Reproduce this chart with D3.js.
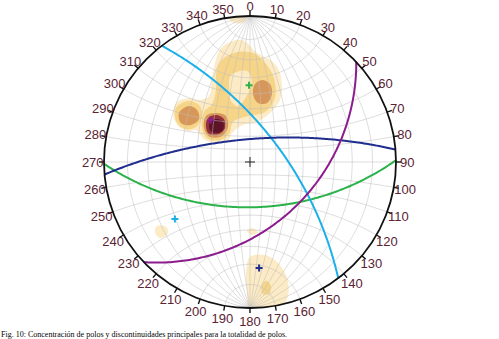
<!DOCTYPE html>
<html><head><meta charset="utf-8">
<script src="https://cdn.jsdelivr.net/npm/d3@7"></script>
<style>html,body{margin:0;padding:0;background:#fff;} svg{display:block}</style>
</head><body>
<svg id="c" width="499" height="339"></svg>
<script>
// ---------------- DATA ----------------
const azimuthLabels = ["0","10","20","30","40","50","60","70","80","90","100","110","120","130","140","150","160","170",
  "180","190","200","210","220","230","240","250","260","270","280","290","300","310","320","330","340","350"];
const gridIntervalDeg = 10;

// principal discontinuity sets (mean planes): dip direction / dip
const setNames = ["green", "lightBlue", "darkBlue", "purple"];
const setDipDirections = [179.3, 52.8, 355.1, 136.7];
const setDips = [55.5, 65.7, 72.2, 42.9];

// pole-density contour rings, [trend, plunge]
const ringMainL1 = [[345.0,13.0],[350.5,10.4],[356.7,10.2],[3.7,16.4],[13.0,19.8],[18.6,24.5],[25.5,37.5],[23.9,47.4],
  [9.9,58.9],[349.3,61.1],[328.2,63.7],[313.7,66.5],[299.9,60.8],[296.1,52.1],[300.7,43.4],[296.6,39.2],[296.6,32.3],
  [302.5,26.0],[309.4,24.2],[315.9,27.3],[321.1,32.8],[328.2,34.0],[335.7,25.4],[340.5,18.6]];
const ringTopL1 = [[352.0,1.1],[355.3,-1],[358.8,-1],[358.0,2.3],[354.2,2.5]];
const ringSouthL1 = [[180,23.9],[170.8,24.3],[163.8,17.4],[162.4,8.5],[164.2,2.7],[168.9,-1],[175.3,-2],[180,-2],
  [181.3,7.5],[182.1,16.0]];
const ringSwL1 = [[235.5,14.6],[232.3,18.0],[229.1,16.8],[229.8,12.2],[233.6,12.1]];
const ringCentreSL1 = [[182.5,39.4],[178.3,41.4],[173.5,38.4],[178.4,36.9]];
const ringMainL2 = [[344.7,18.1],[353.8,15.7],[2.7,16.9],[9.3,21.6],[15.9,28.2],[21.3,39.6],[16.7,50.7],[357.5,55.0],
  [337.0,56.8],[323.1,63.0],[306.3,61.4],[298.7,53.7],[305.3,46.1],[317.4,40.1],[326.8,39.2],[334.7,32.8],[338.9,24.3]];
const ringWestL2 = [[314.5,28.4],[318.2,34.7],[313.8,41.1],[303.0,42.4],[296.9,37.0],[299.0,29.9],[306.1,25.8]];
const ringSouthL2 = [[172.3,11.2],[170.4,8.6],[171.8,5.1],[174.8,5.9],[174.4,9.5]];
const ringHoleL1 = [[347.7,27.3],[358.1,26.1],[1.4,32.6],[356.5,41.9],[347.9,47.2],[342.7,42.7],[344.2,34.5]];
const ringNeL3 = [[8.3,30.8],[14.4,32.3],[17.9,37.8],[16.1,44.3],[7.7,45.6],[2.5,40.0],[3.7,33.7]];
const ringWestL3 = [[312.6,30.9],[314.5,36.1],[310.1,40.9],[302.1,39.0],[299.5,33.0],[304.6,28.8]];
const ringMaxL3 = [[325.2,45.6],[332.4,50.9],[327.8,58.4],[312.9,60.7],[302.0,54.2],[306.5,47.2],[316.3,42.9]];
const ringMaxL4 = [[324.1,46.7],[328.8,52.0],[323.7,57.8],[312.1,58.1],[304.3,52.4],[309.3,47.4],[316.3,44.8]];
const ringMaxL5 = [[322.5,49.3],[326.0,53.4],[319.8,58.0],[310.5,56.0],[308.7,51.3],[315.7,47.2]];

// drawing order of rings and their density level
const ringOrder = [ringMainL1, ringTopL1, ringSouthL1, ringSwL1, ringCentreSL1, ringMainL2, ringWestL2, ringSouthL2,
  ringHoleL1, ringNeL3, ringWestL3, ringMaxL3, ringMaxL4, ringMaxL5];
const ringLevels = [1,1,1,1,1,2,2,2,1,3,3,3,4,5];

const captionText = "Fig. 10: Concentración de polos y discontinuidades principales para la totalidad de polos.";

// ---------------- STYLE ----------------
const W = 499, H = 339, cx = 250, cy = 162, R = 146;
const levelColor = {1:"#fcebc4", 2:"#f6d488", 3:"#d8975a", 4:"#93303a", 5:"#5e1328"};
const setColor = {green:"#2cb24a", lightBlue:"#1cb0ea", darkBlue:"#1f2d8e", purple:"#8c1c8e"};
const labelColor = "#5a2232";

// ---------------- PROJECTION (lower hemisphere, equal angle) ----------------
const sx = d3.scaleLinear().domain([-1,1]).range([cx-R, cx+R]);
const sy = d3.scaleLinear().domain([-1,1]).range([cy+R, cy-R]);
const rad = d => d*Math.PI/180;
function lineVec(trend, plunge){ const t=rad(trend), p=rad(plunge);
  return [Math.cos(p)*Math.sin(t), Math.cos(p)*Math.cos(t), Math.sin(p)]; }
function project(v){ let [x,y,z]=v; if(z<0 && z>-1e-9) z=0; if(z<0){x=-x;y=-y;z=-z;}
  return [sx(x/(1+z)), sy(y/(1+z))]; }
function planeVecs(dd, dip){ const s=rad(dd-90), d=rad(dd), dp=rad(dip);
  return [[Math.sin(s),Math.cos(s),0],[Math.sin(d)*Math.cos(dp),Math.cos(d)*Math.cos(dp),Math.sin(dp)]]; }
function greatCircle(A, B){ return d3.range(0,180.5,1).map(a=>{ const c=Math.cos(rad(a)), s=Math.sin(rad(a));
  return project([c*A[0]+s*B[0], c*A[1]+s*B[1], c*A[2]+s*B[2]]); }); }

const svg = d3.select("#c");
svg.append("rect").attr("width",W).attr("height",H).attr("fill","#fff");
const defs = svg.append("defs");
defs.append("clipPath").attr("id","prim").append("circle").attr("cx",cx).attr("cy",cy).attr("r",R);

// density
const gD = svg.append("g").attr("clip-path","url(#prim)");
const ringLine = d3.line().curve(d3.curveCatmullRomClosed.alpha(0.5));
ringOrder.forEach((ring,i)=>{
  const pts = ring.map(([t,p])=> p<0 ? [sx(1.04*Math.sin(rad(t))), sy(1.04*Math.cos(rad(t)))] : project(lineVec(t,p)));
  gD.append("path").attr("d", ringLine(pts)).attr("fill", levelColor[ringLevels[i]]);
});

// grid (equatorial Wulff net)
const gG = svg.append("g").attr("fill","none").attr("stroke","#bdbdbd").attr("stroke-opacity",0.65).attr("stroke-width",0.8);
const pathLine = d3.line();
const steps = d3.range(gridIntervalDeg, 90, gridIntervalDeg);
steps.forEach(dip=>{
  [1,-1].forEach(sgn=>{
    const A=[0,1,0], B=[sgn*Math.cos(rad(dip)),0,Math.sin(rad(dip))];
    gG.append("path").attr("d", pathLine(greatCircle(A,B)));
  });
});
gG.append("path").attr("d", pathLine([project([0,1,0]),project([0,-1,0])]));
d3.range(gridIntervalDeg, 180, gridIntervalDeg).forEach(beta=>{
  const pts = d3.range(0,180.5,2).map(t=>project([Math.sin(rad(beta))*Math.cos(rad(t)), Math.cos(rad(beta)), Math.sin(rad(beta))*Math.sin(rad(t))]));
  gG.append("path").attr("d", pathLine(pts));
});

// planes
setNames.forEach((n,i)=>{
  const [A,B] = planeVecs(setDipDirections[i], setDips[i]);
  svg.append("path").attr("d", pathLine(greatCircle(A,B))).attr("fill","none")
    .attr("stroke", setColor[n]).attr("stroke-width",2);
});
// poles
setNames.forEach((n,i)=>{
  const [px,py] = project(lineVec(setDipDirections[i]+180, 90-setDips[i]));
  svg.append("path").attr("d",`M${px-3.5},${py}H${px+3.5}M${px},${py-3.5}V${py+3.5}`)
    .attr("stroke", setColor[n]).attr("stroke-width",2);
});
// centre cross
svg.append("path").attr("d",`M${cx-5},${cy}H${cx+5}M${cx},${cy-5}V${cy+5}`).attr("stroke","#222").attr("stroke-width",1);

// primitive
svg.append("circle").attr("cx",cx).attr("cy",cy).attr("r",R).attr("fill","none").attr("stroke","#111").attr("stroke-width",1.8);
const az = d3.scaleLinear().domain([0,360]).range([0,2*Math.PI]);
azimuthLabels.forEach(lab=>{
  const a = az(+lab);
  svg.append("line").attr("x1",cx+R*Math.sin(a)).attr("y1",cy-R*Math.cos(a))
    .attr("x2",cx+(R+5)*Math.sin(a)).attr("y2",cy-(R+5)*Math.cos(a)).attr("stroke","#111").attr("stroke-width",1.4);
  const lr = R + 9.5 + 3.5*(1-Math.cos(a))/2;
  svg.append("text").attr("x",cx+lr*Math.sin(a)).attr("y",cy-lr*Math.cos(a)).attr("dy","0.36em")
    .attr("text-anchor","middle").attr("font-family","Liberation Sans, Arial, sans-serif").attr("font-size",13)
    .attr("fill",labelColor).text(lab);
});

svg.append("text").attr("x",1).attr("y",336.5).attr("font-family","Liberation Serif, Times New Roman, serif")
  .attr("font-size",7.5).attr("fill","#000").attr("textLength",286).attr("lengthAdjust","spacingAndGlyphs").text(captionText);
</script>
</body></html>
